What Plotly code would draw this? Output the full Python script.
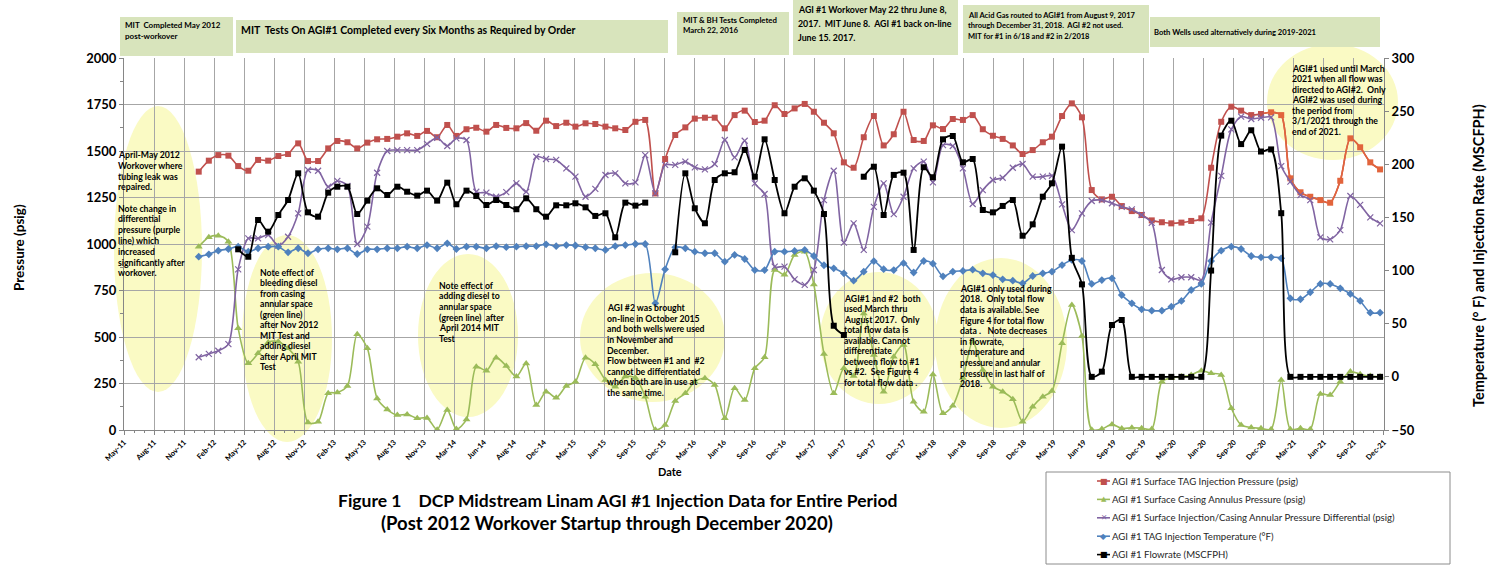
import plotly.graph_objects as go
import pandas as pd

# ---------------- data (monthly, Jan-2012 .. Dec-2021) ----------------
dates = pd.date_range("2012-01-01", periods=120, freq="MS") + pd.Timedelta(days=14)

tag_pressure = [1389, 1448, 1478, 1475, 1419, 1394, 1452, 1448, 1473, 1484, 1541, 1446,
                1446, 1514, 1554, 1547, 1514, 1545, 1563, 1565, 1577, 1595, 1581, 1608,
                1574, 1640, 1581, 1617, 1625, 1604, 1640, 1624, 1622, 1650, 1609, 1663,
                1634, 1652, 1631, 1649, 1645, 1631, 1622, 1613, 1657, 1667, 1272, 1457,
                1586, 1627, 1674, 1679, 1679, 1622, 1693, 1717, 1656, 1663, 1746, 1699,
                1729, 1753, 1711, 1652, 1595, 1439, 1410, 1574, 1688, 1530, 1590, 1711,
                1559, 1554, 1638, 1618, 1672, 1667, 1693, 1617, 1582, 1565, 1530, 1484,
                1505, 1547, 1577, 1688, 1756, 1681, 1290, 1240, 1254, 1204, 1177, 1156,
                1127, 1117, 1111, 1115, 1124, 1138, 1410, 1657, 1738, 1717, 1693, 1699,
                1708, 1693, 1353, 1278, 1254, 1236, 1222, 1340, 1568, 1520, 1439, 1401]

casing_pressure = [985, 1036, 1045, 1012, 547, 359, 412, 471, 475, 439, 367, 40,
                   45, 197, 201, 237, 515, 439, 170, 110, 80, 84, 63, 65,
                   2, 108, 5, 57, 340, 319, 389, 344, 287, 358, 134, 206,
                   174, 237, 260, 389, 353, 269, 233, 287, 280, 179, 2, 27,
                   156, 197, 260, 278, 242, 63, 224, 161, 332, 391, 860, 835,
                   941, 959, 782, 409, 197, 332, 290, 627, 403, 206, 394, 457,
                   152, 98, 299, 90, 131, 280, 475, 323, 233, 206, 165, 45,
                   125, 179, 210, 466, 672, 505, 2, 5, 30, 8, 12, 10,
                   5, 260, 280, 287, 296, 319, 305, 296, 117, 27, 13, 9,
                   4, 269, 4, 9, 4, 194, 188, 260, 314, 300, 290, 287]

diff_pressure = [391, 409, 426, 462, 864, 1030, 1030, 1048, 991, 1039, 1165, 1398,
                 1394, 1308, 1339, 1312, 1000, 1093, 1383, 1500, 1505, 1505, 1505, 1538,
                 1571, 1527, 1568, 1559, 1281, 1276, 1254, 1279, 1326, 1281, 1469, 1457,
                 1452, 1407, 1362, 1254, 1296, 1371, 1380, 1326, 1331, 1478, 1272, 1425,
                 1425, 1443, 1412, 1401, 1430, 1559, 1466, 1555, 1326, 1269, 878, 878,
                 810, 780, 860, 1236, 1394, 1007, 1111, 968, 1200, 1326, 1161, 1254,
                 1407, 1443, 1331, 1532, 1527, 1407, 1215, 1290, 1344, 1356, 1410, 1430,
                 1362, 1362, 1367, 1213, 1075, 1165, 1231, 1236, 1219, 1200, 1186, 1156,
                 1114, 860, 810, 821, 821, 806, 1115, 1366, 1616, 1685, 1672, 1679,
                 1681, 1419, 1335, 1263, 1236, 1036, 1025, 1075, 1258, 1210, 1143, 1111]

temperature = [113.1, 115.3, 118.7, 120.3, 122.5, 117.8, 121, 122.5, 122.5, 117.2, 121, 116.3,
               120, 121, 120, 121, 115.6, 120, 120, 121, 121, 122.5, 121, 124,
               121, 125.6, 120.3, 122.5, 122.5, 121, 123, 122, 122.5, 123, 123, 124.7,
               123, 124, 123.6, 122, 121, 119.4, 123, 124, 125, 125, 69.2, 101.2,
               121.9, 121, 117.8, 116.3, 116.3, 108.4, 114.7, 110.9, 100.5, 100.5, 117.8, 117.8,
               118.4, 119.4, 113.7, 105, 102.1, 97.4, 90.5, 99, 108.8, 101.3, 100.5, 107,
               98.2, 109, 106.5, 94.6, 99, 99.7, 100.8, 97.4, 95.8, 91.8, 90.5, 88,
               94.9, 97.4, 99, 105.2, 110, 109, 87.4, 91.1, 92.7, 77, 69.2, 63.5,
               62.3, 62.3, 66, 71.4, 81.7, 87.4, 109, 118.7, 122.5, 120.3, 113.7, 112.5,
               112.5, 111.5, 73.9, 73, 79.6, 87.4, 87.4, 83.3, 78, 71.4, 60.4, 60.4]

flowrate = [None, None, None, None, 120, 113, 147.6, 136.6, 152.3, 166.4, 191.5, 154.8,
            150.7, 173.3, 178.9, 178.9, 153.2, 165.8, 177.4, 171.1, 178.9, 174.2, 170.5, 175.2,
            165.8, 182.7, 162.4, 175.2, 170.2, 161.7, 166.4, 161.7, 157.7, 168, 157.7, 150.7,
            161.4, 161.4, 163.3, 159.5, 151.4, 153.9, 131.3, 163.9, 161.1, 163.9, None, None,
            117.2, 191.5, 158.6, 144.5, 185.2, 191.5, 192.5, 213.5, 188.3, 223.5, 185.2, 153.9,
            178.9, 186.8, 175.2, 153.2, 48.1, 39.4, None, 188.3, 197.7, 152.3, 190, 192.1,
            119.4, 197.2, 187.8, 223.5, 226.6, 201.9, 205, 157, 154.8, 160.8, 166.4, 132.8,
            143.5, 169.5, 182.1, 216.6, 112, 87, 0, 4.9, 48.8, 53.5, 0, 0,
            0, 0, 0, 0, 0, 0, 100, 227, 241, 219, 232, 212,
            214, 154, 0, 0, 0, 0, 0, 0, 0, 0, 0, 0]

tick_labels = ["May-11", "Aug-11", "Nov-11", "Feb-12", "May-12", "Aug-12", "Nov-12", "Feb-13",
               "May-13", "Aug-13", "Nov-13", "Mar-14", "Jun-14", "Aug-14", "Dec-14", "Mar-15",
               "Jun-15", "Sep-15", "Dec-15", "Mar-16", "Jun-16", "Sep-16", "Dec-16", "Mar-17",
               "Jun-17", "Sep-17", "Dec-17", "Mar-18", "Jun-18", "Sep-18", "Dec-18", "Mar-19",
               "Jun-19", "Sep-19", "Dec-19", "Mar-20", "Jun-20", "Sep-20", "Dec-20", "Mar-21",
               "Jun-21", "Sep-21", "Dec-21"]

series_names = ["AGI #1 Surface TAG Injection Pressure (psig)",
                "AGI #1 Surface Casing Annulus Pressure (psig)",
                "AGI #1 Surface Injection/Casing Annular Pressure Differential (psig)",
                "AGI #1 TAG Injection Temperature (°F)",
                "AGI #1 Flowrate (MSCFPH)"]

# ---------------- layout geometry ----------------
W, H = 1489, 565
L, R, T, B = 124, 1384, 58, 430


def px(x):
    return (x - L) / (R - L)


def py(y):
    return (B - y) / (B - T)


axis_start = pd.Timestamp("2011-05-31")
axis_end = pd.Timestamp("2021-12-27")
span = axis_end - axis_start
tickvals = [axis_start + span * k / 42 for k in range(43)]
minor_vals = [axis_start + span * k / 126 for k in range(127)]

RED, ORANGE, GREEN, PURPLE, BLUE, BLACK = "#C0504D", "#E2643C", "#9BBB59", "#8064A2", "#4F81BD", "#000000"
colors = [RED, GREEN, PURPLE, BLUE, BLACK]

fig = go.Figure()
sp = dict(shape="spline", smoothing=0.8)
n_red = 108  # later TAG-pressure points are drawn in an orange tint in the original
red_marker_colors = [RED if k < n_red else ORANGE for k in range(len(tag_pressure))]
fig.add_trace(go.Scatter(x=dates, y=tag_pressure, name=series_names[0], mode="lines",
                         line=dict(color=RED, width=1.6, **sp), showlegend=False))
fig.add_trace(go.Scatter(x=dates[n_red - 1:], y=tag_pressure[n_red - 1:], mode="lines",
                         line=dict(color=ORANGE, width=1.6, **sp), showlegend=False,
                         hoverinfo="skip"))
fig.add_trace(go.Scatter(x=dates, y=tag_pressure, name=series_names[0], mode="markers",
                         marker=dict(symbol="square", size=6, color=red_marker_colors),
                         showlegend=False))
fig.add_trace(go.Scatter(x=dates, y=casing_pressure, name=series_names[1], mode="lines+markers",
                         line=dict(color=GREEN, width=1.6, **sp),
                         marker=dict(symbol="triangle-up", size=7, color=GREEN), showlegend=False))
fig.add_trace(go.Scatter(x=dates, y=diff_pressure, name=series_names[2], mode="lines+markers",
                         line=dict(color=PURPLE, width=1.6, **sp),
                         marker=dict(symbol="x-thin", size=6, color=PURPLE,
                                     line=dict(width=1.2, color=PURPLE)), showlegend=False))
fig.add_trace(go.Scatter(x=dates, y=temperature, name=series_names[3], mode="lines+markers",
                         line=dict(color=BLUE, width=1.6, **sp),
                         marker=dict(symbol="diamond", size=6, color=BLUE), yaxis="y2",
                         showlegend=False))
fig.add_trace(go.Scatter(x=dates, y=flowrate, name=series_names[4], mode="lines+markers",
                         line=dict(color=BLACK, width=1.8, **sp),
                         marker=dict(symbol="square", size=6, color=BLACK), yaxis="y2",
                         connectgaps=False, showlegend=False))

GRID = "#A6A6A6"
AXLINE = "#868686"
bold_tick = dict(family="Lato", size=13, color="black", weight="bold")

fig.update_layout(
    width=W, height=H,
    margin=dict(l=L, r=W - R, t=T, b=H - B, autoexpand=False),
    paper_bgcolor="white", plot_bgcolor="white",
    showlegend=False,
    xaxis=dict(type="date", automargin=False,
               range=[axis_start - pd.Timedelta(hours=2), axis_end + pd.Timedelta(hours=2)],
               tickmode="array", tickvals=tickvals, ticktext=tick_labels, tickangle=-45,
               tickfont=dict(family="Lato", size=7.5, color="black", weight="bold"),
               showgrid=True, gridcolor=GRID, gridwidth=1,
               showline=True, linecolor=AXLINE, linewidth=1,
               ticks="outside", ticklen=4, tickcolor=AXLINE,
               minor=dict(tickmode="array", tickvals=minor_vals, ticks="outside",
                          ticklen=2, tickcolor=AXLINE, showgrid=False),
               zeroline=False),
    yaxis=dict(range=[0, 2000], dtick=250, tickfont=bold_tick, automargin=False,
               showgrid=True, gridcolor=GRID, gridwidth=1,
               showline=True, linecolor=AXLINE, linewidth=1,
               ticks="outside", ticklen=4, tickcolor=AXLINE,
               minor=dict(dtick=125, ticks="outside", ticklen=3, tickcolor=AXLINE, showgrid=False),
               zeroline=False),
    yaxis2=dict(range=[-50, 300], dtick=50, overlaying="y", side="right", automargin=False,
                tickfont=bold_tick, showgrid=False,
                showline=True, linecolor=AXLINE, linewidth=1,
                ticks="outside", ticklen=4, tickcolor=AXLINE, zeroline=False),
)

shapes = []
# yellow ellipses (x0, x1, y0, y1 in pixels)
ellipses = [(114, 202, 106, 392), (242, 332, 235, 442), (418, 518, 254, 417),
            (580, 725, 273, 402), (820, 938, 272, 404), (935, 1067, 258, 428),
            (1267, 1398, 44, 160)]
for x0, x1, y0, y1 in ellipses:
    shapes.append(dict(type="circle", xref="paper", yref="paper",
                       x0=px(x0), x1=px(x1), y0=py(y1), y1=py(y0),
                       fillcolor="rgb(250,250,196)", line=dict(width=0), layer="below"))
# top green boxes
boxes = [(120, 233, 17, 56), (236, 668, 20, 53), (677, 789, 12, 55), (793, 958, 0, 55),
         (963, 1149, 5, 53), (1150, 1380, 17, 47)]
for x0, x1, y0, y1 in boxes:
    shapes.append(dict(type="rect", xref="paper", yref="paper",
                       x0=px(x0), x1=px(x1), y0=py(y1), y1=py(y0),
                       fillcolor="#D8E4BC", line=dict(width=0), layer="above"))
# hand-drawn legend: border and line samples
leg_y = [481, 499.4, 517.8, 536.2, 554.6]
shapes.append(dict(type="rect", xref="paper", yref="paper",
                   x0=px(1046), x1=px(1450), y0=py(564), y1=py(472),
                   fillcolor="rgba(0,0,0,0)", line=dict(width=1, color="#8C8C8C")))
for c, yy in zip(colors, leg_y):
    shapes.append(dict(type="line", xref="paper", yref="paper",
                       x0=px(1097), x1=px(1110), y0=py(yy), y1=py(yy),
                       line=dict(color=c, width=1.6)))
fig.update_layout(shapes=shapes)

annotations = []


def add_lines(lines, x, y_first, spacing, size, weight="bold", color="black",
              family="Lato", xanchor="left"):
    for k, t in enumerate(lines):
        if t == "":
            continue
        annotations.append(dict(text=t, xref="paper", yref="paper",
                                x=px(x), y=py(y_first + k * spacing),
                                xanchor=xanchor, yanchor="middle", showarrow=False,
                                font=dict(family=family, size=size, color=color, weight=weight)))


NB = "\u00a0"
# legend marker glyphs and texts
glyphs = [("\u25A0", 8), ("\u25B2", 7), ("\u2715", 7.5), ("\u25C6", 8), ("\u25A0", 8)]
for (g, s), c, yy in zip(glyphs, colors, leg_y):
    add_lines([g], 1103.5, yy, 0, s, weight="normal", color=c, family="DejaVu Sans",
              xanchor="center")
for name, yy in zip(series_names, leg_y):
    add_lines([name], 1110, yy, 0, 9.6, weight="normal", color="#262626")

# box texts
add_lines(["MIT" + NB + " Completed May 2012", "post-workover"], 123, 25, 11, 8)
add_lines(["MIT" + NB + " Tests On AGI#1 Completed every Six Months as Required by Order"], 239, 30, 11, 10.5)
add_lines(["MIT & BH Tests Completed", "March 22, 2016"], 681, 20, 10.5, 7.8)
add_lines(["AGI #1 Workover May 22 thru June 8,",
           "2017." + NB + " MIT June 8." + NB + " AGI #1 back on-line",
           "June 15. 2017."], 796, 10, 13.7, 8.8)
add_lines(["All Acid Gas routed to AGI#1 from August 9, 2017",
           "through December 31, 2018." + NB + " AGI #2 not used.",
           "MIT for #1 in 6/18 and #2 in 2/2018"], 966, 15, 10.7, 7.5)
add_lines(["Both Wells used alternatively during 2019-2021"], 1152, 32, 11, 7.6)

# ellipse texts
ES = 8.7
add_lines(["April-May 2012", "Workover where", "tubing leak was", "repaired.", "",
           "Note change in", "differential", "pressure (purple", "line) which",
           "increased", "significantly after", "workover."], 116, 154.5, 10.75, ES)
add_lines(["Note effect of", "bleeding diesel", "from casing", "annular space",
           "(green line)", "after Nov 2012", "MIT Test and", "adding diesel",
           "after April MIT", "Test"], 258, 272.3, 10.5, ES)
add_lines(["Note effect of", "adding diesel to", "annular space",
           "(green line)" + NB + " after", "April 2014 MIT", "Test"], 436.7, 285, 10.7, ES)
add_lines(["AGI #2 was brought", "on-line in October 2015", "and both wells were used",
           "in November and", "December.", "Flow between #1 and" + NB + " #2",
           "cannot be differentiated", "when both are in use at", "the same time."],
          605, 307.7, 10.6, ES)
add_lines(["AGI#1 and #2" + NB + " both", "used March thru", "August 2017." + NB + " Only",
           "total flow data is", "available. Cannot", "differentiate",
           "between flow to #1", "vs #2." + NB + " See Figure 4", "for total flow data ."],
          841.7, 298.3, 10.5, ES)
add_lines(["AGI#1 only used during", "2018." + NB + " Only total flow",
           "data is available. See", "Figure 4 for total flow",
           "data ." + NB + NB + " Note decreases", "in flowrate,", "temperature and",
           "pressure and annular", "pressure in last half of", "2018."],
          957.7, 288.3, 10.6, ES)
add_lines(["AGI#1 used until March", "2021 when all flow was",
           "directed to AGI#2." + NB + " Only", "AGI#2 was used during",
           "the period from", "3/1/2021 through the", "end of 2021."],
          1290, 68.3, 10.45, ES)

# axis titles and caption
annotations.append(dict(text="Pressure (psig)", xref="paper", yref="paper",
                        x=px(19), y=py(248), textangle=-90, showarrow=False,
                        xanchor="center", yanchor="middle",
                        font=dict(family="Lato", size=13.5, color="black", weight="bold")))
annotations.append(dict(text="Temperature (° F) and Injection Rate (MSCFPH)", xref="paper", yref="paper",
                        x=px(1478), y=py(256), textangle=-90, showarrow=False,
                        xanchor="center", yanchor="middle",
                        font=dict(family="Lato", size=14.5, color="black", weight="bold")))
annotations.append(dict(text="Date", xref="paper", yref="paper",
                        x=px(670), y=py(472), showarrow=False,
                        xanchor="center", yanchor="middle",
                        font=dict(family="Lato", size=11, color="black", weight="bold")))
annotations.append(dict(text="Figure 1" + NB * 4 + "DCP Midstream Linam AGI #1 Injection Data for Entire Period",
                        xref="paper", yref="paper", x=px(618), y=py(500), showarrow=False,
                        xanchor="center", yanchor="middle",
                        font=dict(family="Lato", size=17.5, color="black", weight="bold")))
annotations.append(dict(text="(Post 2012 Workover Startup through December 2020)",
                        xref="paper", yref="paper", x=px(607), y=py(523), showarrow=False,
                        xanchor="center", yanchor="middle",
                        font=dict(family="Lato", size=18.5, color="black", weight="bold")))

fig.update_layout(annotations=annotations)
fig.write_html("out.html",
               config={"displayModeBar": False, "staticPlot": True},
               post_script="document.body.style.margin='0px';document.body.style.padding='0px';"
                           "document.body.style.overflow='hidden';")
